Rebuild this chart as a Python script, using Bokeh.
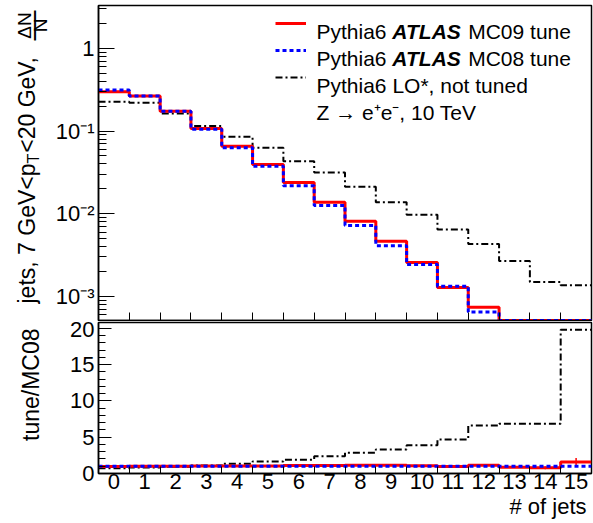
import numpy as np
from math import pi
from bokeh.plotting import figure
from bokeh.models import (Range1d, FixedTicker, CustomJSTickFormatter, Label,
                          Legend, LegendItem, Title)
from bokeh.layouts import column, row
from bokeh.embed import file_html
from bokeh.resources import INLINE

# ---------------- data ----------------
jet_bins = [0, 1, 2, 3, 4, 5, 6, 7, 8, 9, 10, 11, 12, 13, 14, 15]
x_tick_labels = ["0", "1", "2", "3", "4", "5", "6", "7", "8", "9",
                 "10", "11", "12", "13", "14", "15"]

mc09_frac = [0.298, 0.265, 0.174, 0.107, 0.0656, 0.0394, 0.0239, 0.0137,
             0.0081, 0.00465, 0.00257, 0.00128, 0.000738, 0.00033, 0.00017, 0.00011]
mc08_frac = [0.313, 0.265, 0.174, 0.105, 0.0626, 0.0376, 0.0217, 0.0126,
             0.0072, 0.0041, 0.00243, 0.00132, 0.000645, 0.00039, 0.00022, 0.000069]
lo_frac = [0.226, 0.220, 0.163, 0.1147, 0.0851, 0.0626, 0.0432, 0.0315,
           0.0211, 0.0137, 0.00968, 0.00645, 0.0043, 0.00268, 0.00149, 0.00136]

mc09_ratio = [0.95, 1.0, 1.0, 1.02, 1.05, 1.05, 1.1, 1.09,
              1.13, 1.13, 1.06, 0.97, 1.14, 0.85, 0.78, 1.6]
mc09_ratio_err = [0, 0, 0, 0, 0, 0, 0, 0, 0, 0, 0, 0, 0, 0, 0.2, 0.55]
mc08_ratio = [1.0, 1.0, 1.0, 1.0, 1.0, 1.0, 1.0, 1.0,
              1.0, 1.0, 1.0, 1.0, 1.0, 1.0, 1.0, 1.0]
lo_ratio = [0.72, 0.83, 0.94, 1.09, 1.36, 1.66, 1.9, 2.37,
            2.87, 3.3, 3.9, 4.7, 6.6, 6.86, 6.86, 19.8]

legend_texts = ["MC09 tune", "MC08 tune", "Pythia6 LO*, not tuned",
                "Z \u2192 e\u207ae\u207b, 10 TeV"]

# ---------------- layout constants ----------------
FONT = "Liberation Sans"
TITLE_W = 52          # left strip holding the rotated y titles
TOTAL_H = 523
W = 593 - TITLE_W
TOP_H = 321
BOT_H = 202
LEFT = 97 - TITLE_W
RIGHT = 2
Y_LO, Y_HI = 5.1e-4, 3.3
R_LO, R_HI = 0.0, 20.8

RED = "#ff0000"
BLUE = "#0000ff"

# Arial-like advance widths (per 1000 em) for placing text pieces
ADV = {'j': 222, 'e': 556, 't': 278, 's': 500, ',': 278, ' ': 278, '7': 556,
       'G': 778, 'V': 667, '<': 584, 'p': 556, 'T': 611, '2': 556, '0': 556,
       'P': 667, 'y': 500, 'h': 556, 'i': 222, 'a': 556, '6': 556, 'A': 722,
       'L': 611, 'S': 667}
MID = 0.3465  # distance (em) from baseline up to the middle of the font box


def tw(s, size):
    return sum(ADV[c] for c in s) * size / 1000.0


edges = np.append(np.array(jet_bins, float) - 0.5, jet_bins[-1] + 0.5)
inner_edges = list(edges[1:-1])


def step_y(vals, floor=None):
    v = np.array(vals, float)
    if floor is not None:
        v = np.maximum(v, floor)
    return np.append(v, v[-1])


def style_common(p):
    p.xgrid.visible = False
    p.ygrid.visible = False
    p.outline_line_color = "black"
    p.outline_line_width = 1.5
    p.background_fill_color = "white"
    p.border_fill_color = "white"


def style_axis(ax):
    ax.axis_line_width = 1.5
    ax.axis_line_color = "black"
    ax.major_tick_line_color = "black"
    ax.minor_tick_line_color = "black"
    ax.major_label_text_font = FONT
    ax.major_label_text_font_size = "22px"
    ax.major_label_text_color = "black"
    ax.major_tick_out = 0
    ax.minor_tick_out = 0


# ---------------- top panel ----------------
top = figure(width=W, height=TOP_H, y_axis_type="log",
             x_range=Range1d(edges[0], edges[-1]), y_range=Range1d(Y_LO, Y_HI),
             output_backend="svg", toolbar_location=None,
             min_border_left=LEFT, min_border_right=RIGHT,
             min_border_top=5, min_border_bottom=1)
style_common(top)

top_minor = [m * 10.0 ** e for e in range(-4, 1) for m in range(2, 10)
             if Y_LO <= m * 10.0 ** e <= Y_HI]
top.yaxis.ticker = FixedTicker(ticks=[1e-3, 1e-2, 1e-1, 1.0], minor_ticks=top_minor)
top.yaxis.formatter = CustomJSTickFormatter(code="""
const e = Math.round(Math.log10(tick));
if (e === 0) { return "1"; }
const m = {"-": "\\u207b", "0": "\\u2070", "1": "\\u00b9", "2": "\\u00b2", "3": "\\u00b3", "4": "\\u2074"};
let s = "";
for (const c of String(e)) { s += m[c]; }
return "10" + s;
""")
style_axis(top.yaxis[0])
top.yaxis.major_tick_in = 16
top.yaxis.minor_tick_in = 8
top.yaxis.major_label_standoff = 4

top.xaxis.ticker = FixedTicker(ticks=[], minor_ticks=inner_edges)
style_axis(top.xaxis[0])
top.xaxis.major_label_text_font_size = "0px"
top.xaxis.major_label_standoff = 0
top.xaxis.major_tick_in = 0
top.xaxis.minor_tick_in = 8

r_lo = top.step(edges, step_y(lo_frac, Y_LO), mode="after", line_color="black",
                line_width=2, line_dash="7 3 2 3")
r_09 = top.step(edges, step_y(mc09_frac, Y_LO), mode="after", line_color=RED,
                line_width=3)
r_08 = top.step(edges, step_y(mc08_frac, Y_LO), mode="after", line_color=BLUE,
                line_width=3, line_dash="4 3")

legend = Legend(items=[LegendItem(label=" ", renderers=[r_09]),
                       LegendItem(label=" ", renderers=[r_08]),
                       LegendItem(label=" ", renderers=[r_lo])],
                location=(177, 231), orientation="vertical",
                glyph_width=31, glyph_height=24, label_height=24, label_width=1,
                spacing=3, padding=0, margin=0, label_standoff=0,
                label_text_font_size="1px",
                border_line_color=None, background_fill_alpha=0)
top.add_layout(legend)


def add_label(p, fl, fb, X, Y, text, size, baseline="alphabetic", **kw):
    """Label placed by window pixel (X, Y); fl/fb = frame left/bottom in window px."""
    lab = Label(x=X - fl, y=fb - Y, x_units="screen", y_units="screen", text=text,
                text_font=FONT, text_font_size=f"{size}px", text_color="black",
                text_baseline=baseline, **kw)
    p.add_layout(lab)
    return lab


# legend texts
LX = 315
rows = [23, 50, 77, 104]
LEG_FS = 21
for i, extra in enumerate(legend_texts[:2]):
    base = rows[i] + 7.5
    add_label(top, 97, 320, LX, base, "Pythia6", LEG_FS)
    x2 = LX + tw("Pythia6 ", LEG_FS)
    add_label(top, 97, 320, x2, base, "ATLAS", LEG_FS, text_font_style="bold italic")
    x3 = x2 + tw("ATLAS ", LEG_FS)
    add_label(top, 97, 320, x3, base, extra, LEG_FS)
add_label(top, 97, 320, LX, rows[2] + 7.5, legend_texts[2], LEG_FS)
add_label(top, 97, 320, LX, rows[3] + 7.5, legend_texts[3], LEG_FS)

# ---------------- ratio panel ----------------
bot = figure(width=W, height=BOT_H,
             x_range=top.x_range, y_range=Range1d(R_LO, R_HI),
             output_backend="svg", toolbar_location=None,
             min_border_left=LEFT, min_border_right=RIGHT,
             min_border_top=1, min_border_bottom=50)
style_common(bot)

bot.yaxis.ticker = FixedTicker(ticks=[0, 5, 10, 15, 20], minor_ticks=list(range(0, 21)))
style_axis(bot.yaxis[0])
bot.yaxis.major_tick_in = 13
bot.yaxis.minor_tick_in = 7
bot.yaxis.major_label_standoff = 4

bot.xaxis.ticker = FixedTicker(ticks=jet_bins, minor_ticks=inner_edges)
style_axis(bot.xaxis[0])
bot.xaxis.major_label_overrides = {b: t for b, t in zip(jet_bins, x_tick_labels)}
bot.xaxis.major_tick_in = 0
bot.xaxis.minor_tick_in = 7
bot.xaxis.major_label_standoff = 0

xtitle = Title(text="# of jets", align="right", offset=5, standoff=0,
               text_font=FONT, text_font_size="22px", text_font_style="normal",
               text_color="black")
bot.add_layout(xtitle, "below")

bot.step(edges, step_y(lo_ratio), mode="after", line_color="black",
         line_width=2, line_dash="7 3 2 3")
bot.step(edges, step_y(mc09_ratio), mode="after", line_color=RED, line_width=3)
err = np.array(mc09_ratio_err, float)
rv = np.array(mc09_ratio, float)
msk = err > 0
xb = np.array(jet_bins, float)[msk]
bot.segment(x0=xb, y0=(rv - err)[msk], x1=xb, y1=(rv + err)[msk],
            line_color=RED, line_width=1.5)
bot.step(edges, step_y(mc08_ratio), mode="after", line_color=BLUE,
         line_width=3, line_dash="4 3")

# ---------------- left strip with the rotated y titles ----------------
tf = figure(width=TITLE_W, height=TOTAL_H,
            x_range=Range1d(0, TITLE_W), y_range=Range1d(0, TOTAL_H),
            output_backend="svg", toolbar_location=None,
            x_axis_location=None, y_axis_location=None,
            min_border_left=0, min_border_right=0, min_border_top=0, min_border_bottom=0)
tf.xgrid.visible = False
tf.ygrid.visible = False
tf.outline_line_color = None
tf.background_fill_color = "white"
tf.border_fill_color = "white"


def vtext(base_x, Y, text, size, align):
    """Rotated (bottom-to-top) text whose baseline sits at window x = base_x."""
    add_label(tf, 0, TOTAL_H, base_x - MID * size, Y, text, size,
              baseline="middle", angle=pi / 2, text_align=align)


TFS = 23
BASE_X = 34
Y0 = 303
vtext(BASE_X, Y0, "jets, 7 GeV<p", TFS, "left")
Y1 = Y0 - tw("jets, 7 GeV<p", TFS)
vtext(BASE_X + 5, Y1, "T", 16, "left")
Y2 = Y1 - tw("T", 16) - 1
vtext(BASE_X, Y2, "<20 GeV,", TFS, "left")
YC = 25
vtext(31, YC, "\u0394N", 19, "center")
vtext(42.5, YC, "\u2014", 30, "center")
vtext(47, YC, "N", 19, "center")
vtext(38, 328, "tune/MC08", TFS, "right")

layout = row(tf, column(top, bot, spacing=0), spacing=0)
open("out.html", "w").write(file_html(layout, INLINE))
